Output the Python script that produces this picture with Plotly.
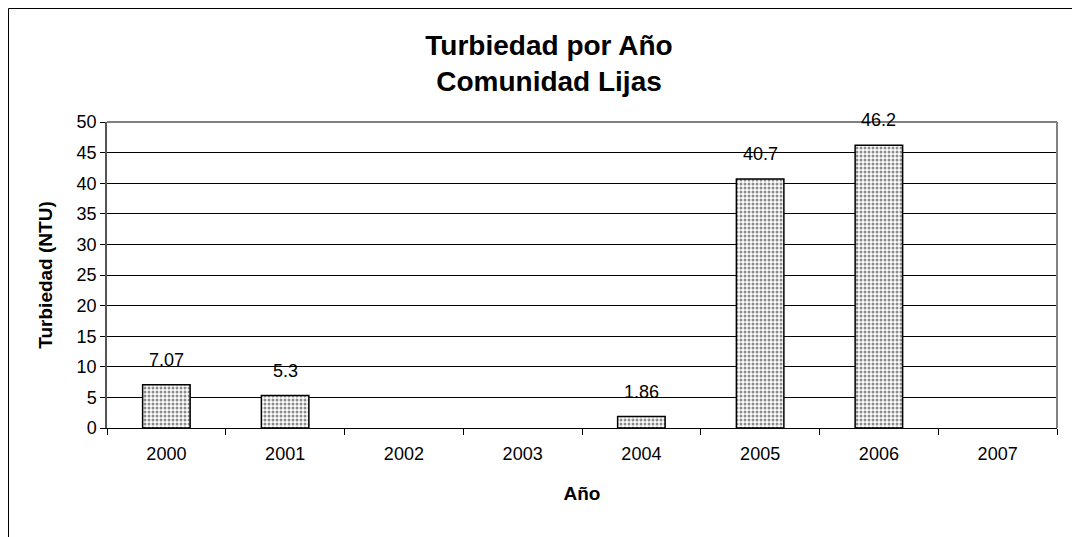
import plotly.graph_objects as go

# datos
anios = ["2000", "2001", "2002", "2003", "2004", "2005", "2006", "2007"]
turbiedad = [7.07, 5.3, None, None, 1.86, 40.7, 46.2, None]
etiquetas = ["7.07", "5.3", "", "", "1.86", "40.7", "46.2", ""]

# la página deja 8 px de margen, así que la figura va corrida 8 px
W, H = 1080, 537
L, R, T, B = 99, 31, 114, 117
pw, ph = W - L - R, H - T - B

FUENTE = "Liberation Sans, Arial, sans-serif"

fig = go.Figure(go.Bar(
    x=anios, y=turbiedad,
    marker=dict(color="white",
                line=dict(color="black", width=1.5),
                pattern=dict(shape=".", fgcolor="#1a1a1a", bgcolor="white",
                             size=4, solidity=0.45)),
    hoverinfo="x+y",
))

# etiquetas de datos: en eje de categorías la x va por índice
for i, (v, e) in enumerate(zip(turbiedad, etiquetas)):
    if v is None:
        continue
    fig.add_annotation(x=i, y=v, text=e, showarrow=False, yshift=25,
                       font=dict(size=18, color="black", family=FUENTE))

# marco exterior del gráfico
fig.add_shape(type="rect", xref="paper", yref="paper", layer="below",
              x0=(0.5 - L) / pw, x1=(W + 5 - L) / pw,
              y0=-(H + 5 - T - ph) / ph, y1=(ph + T - 0.5) / ph,
              line=dict(color="black", width=1), fillcolor="rgba(0,0,0,0)")

fig.update_layout(
    width=W, height=H,
    margin=dict(l=L, r=R, t=T, b=B),
    paper_bgcolor="white", plot_bgcolor="white",
    font=dict(family=FUENTE, color="black", size=18),
    bargap=0.6, showlegend=False,
    title=dict(text="<b>Turbiedad por Año<br>Comunidad Lijas</b>",
               x=541 / W, xanchor="center", y=1 - 47 / H, yanchor="middle",
               font=dict(size=28, family=FUENTE)),
    xaxis=dict(type="category", range=[-0.5, len(anios) - 0.5],
               title=dict(text="<b>Año</b>", font=dict(size=19), standoff=24),
               showgrid=False, showline=True, linecolor="black", linewidth=1,
               ticks="outside", tickson="boundaries", ticklen=6, tickcolor="black",
               ticklabelstandoff=9,
               tickfont=dict(size=18), mirror=False),
    yaxis=dict(title=dict(text="<b>Turbiedad (NTU)</b>", font=dict(size=19), standoff=19),
               range=[0, 50], dtick=5, showgrid=True, gridcolor="black", gridwidth=1,
               showline=True, linecolor="#555555", linewidth=1.5,
               ticks="outside", ticklen=5, tickcolor="black",
               tickfont=dict(size=18), zeroline=False),
)

# borde gris superior y derecho del área de trazado
fig.add_shape(type="line", xref="paper", yref="paper", x0=0, x1=1, y0=1, y1=1,
              line=dict(color="#808080", width=2))
fig.add_shape(type="line", xref="paper", yref="paper", x0=1, x1=1, y0=0, y1=1,
              line=dict(color="#808080", width=2))

fig.write_html("out.html")
